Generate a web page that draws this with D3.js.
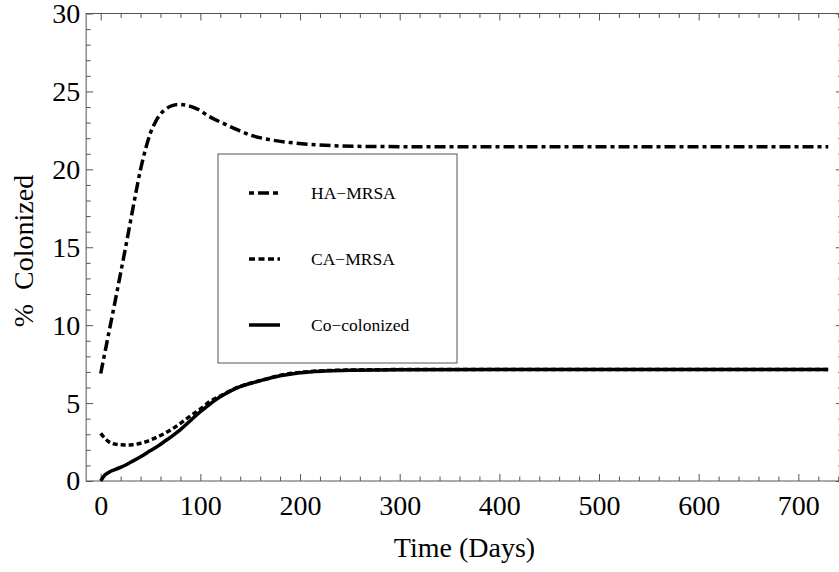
<!DOCTYPE html>
<html>
<head>
<meta charset="utf-8">
<script src="https://cdn.jsdelivr.net/npm/d3@7"></script>
<style>
  html, body { margin: 0; padding: 0; background: #fff; }
  svg { display: block; }
  text { font-family: "Liberation Serif", "Times New Roman", Times, serif; fill: #000; }
</style>
</head>
<body>
<svg id="chart" width="839" height="572"></svg>
<script>
// ---- data ----
const haTime = [0,5,10,15,20,25,30,35,40,45,50,55,60,65,70,78,85,96,110,123,135,150,170,190,210,240,280,350,450,600,730];
const haValues = [6.9,8.5,10.1,11.7,13.35,15.0,16.7,18.4,20.0,21.3,22.35,23.05,23.55,23.85,24.05,24.17,24.12,23.9,23.35,22.95,22.6,22.2,21.9,21.72,21.6,21.5,21.46,21.45,21.45,21.45,21.45];

const caTime = [0,4,8,12,16,20,26,32,40,48,56,64,72,80,90,100,110,120,135,150,165,180,200,225,250,300,400,550,730];
const caValues = [3.05,2.75,2.52,2.4,2.35,2.32,2.31,2.33,2.42,2.58,2.8,3.05,3.35,3.7,4.17,4.62,5.12,5.45,5.95,6.27,6.52,6.78,6.97,7.08,7.12,7.15,7.16,7.16,7.16];

const coTime = [0,3,8,15,23,30,40,50,57,65,73,80,90,100,107,115,123,131,140,152,163,180,200,225,250,300,400,550,730];
const coValues = [0,0.3,0.55,0.75,0.96,1.2,1.55,1.95,2.22,2.58,2.95,3.3,3.87,4.45,4.8,5.2,5.52,5.8,6.06,6.3,6.49,6.75,6.95,7.06,7.11,7.14,7.15,7.15,7.15];

const seriesNames = ["HA\u2212MRSA", "CA\u2212MRSA", "Co\u2212colonized"];
const xTicks = [0,100,200,300,400,500,600,700];
const yTicks = [0,5,10,15,20,25,30];
const xTitle = "Time (Days)";
const yTitle = "%  Colonized";

// ---- layout ----
const svg = d3.select("#chart");
const x = d3.scaleLinear().domain([-14.6, 744.6]).range([86.15, 842.8]);
const y = d3.scaleLinear().domain([0, 30]).range([481, 13.5]);
const frameColor = "#555";
const fontSize = 28;

const xMinor = d3.range(0, 741, 20).filter(v => v % 100 !== 0);
const yMinor = d3.range(0, 31, 1).filter(v => v % 5 !== 0);

function styleAxis(g, labels) {
  g.select(".domain").remove();
  g.selectAll(".tick line").attr("stroke", frameColor).attr("stroke-width", 1);
  g.selectAll(".tick text")
    .style("font-family", '"Liberation Serif", "Times New Roman", serif')
    .style("font-size", fontSize + "px")
    .attr("fill", "#000");
  if (!labels) g.selectAll(".tick text").remove();
}

// bottom
svg.append("g").attr("transform", `translate(0,${y(0)})`)
  .call(d3.axisBottom(x).tickValues(xTicks).tickSize(-7).tickPadding(14).tickFormat(d3.format("d")))
  .call(g => styleAxis(g, true));
svg.append("g").attr("transform", `translate(0,${y(0)})`)
  .call(d3.axisBottom(x).tickValues(xMinor).tickSize(-4.5).tickFormat(""))
  .call(g => styleAxis(g, false));
// top
svg.append("g").attr("transform", `translate(0,${y(30)})`)
  .call(d3.axisTop(x).tickValues(xTicks).tickSize(-7).tickFormat(""))
  .call(g => styleAxis(g, false));
svg.append("g").attr("transform", `translate(0,${y(30)})`)
  .call(d3.axisTop(x).tickValues(xMinor).tickSize(-4.5).tickFormat(""))
  .call(g => styleAxis(g, false));
// left
svg.append("g").attr("transform", `translate(${x.range()[0]},0)`)
  .call(d3.axisLeft(y).tickValues(yTicks).tickSize(-7).tickPadding(6).tickFormat(d3.format("d")))
  .call(g => styleAxis(g, true));
svg.append("g").attr("transform", `translate(${x.range()[0]},0)`)
  .call(d3.axisLeft(y).tickValues(yMinor).tickSize(-4.5).tickFormat(""))
  .call(g => styleAxis(g, false));
// right
svg.append("g").attr("transform", `translate(${x.range()[1]},0)`)
  .call(d3.axisRight(y).tickValues(yTicks).tickSize(-7).tickFormat(""))
  .call(g => styleAxis(g, false));
svg.append("g").attr("transform", `translate(${x.range()[1]},0)`)
  .call(d3.axisRight(y).tickValues(yMinor).tickSize(-4.5).tickFormat(""))
  .call(g => styleAxis(g, false));

// frame
svg.append("rect")
  .attr("x", x.range()[0]).attr("y", y(30))
  .attr("width", x.range()[1] - x.range()[0]).attr("height", y(0) - y(30))
  .attr("fill", "none").attr("stroke", frameColor).attr("stroke-width", 1);

// ---- curves ----
const line = d3.line().x(d => x(d[0])).y(d => y(d[1])).curve(d3.curveMonotoneX);
const series = [
  { t: haTime, v: haValues, dash: "11,4,4,4" },
  { t: caTime, v: caValues, dash: "5,3" },
  { t: coTime, v: coValues, dash: null }
];
// draw solid first, then dashed on top
[2, 1, 0].forEach(i => {
  const s = series[i];
  svg.append("path")
    .datum(s.t.map((t, k) => [t, s.v[k]]))
    .attr("d", line)
    .attr("fill", "none")
    .attr("stroke", "#000")
    .attr("stroke-width", 3.5)
    .attr("stroke-dasharray", s.dash);
});

// ---- axis titles ----
svg.append("text")
  .attr("x", 464.5).attr("y", 557)
  .attr("text-anchor", "middle")
  .style("font-size", fontSize + "px")
  .text(xTitle);
svg.append("text")
  .attr("transform", "translate(33,251) rotate(-90)")
  .attr("text-anchor", "middle")
  .style("font-size", fontSize + "px")
  .style("white-space", "pre")
  .text(yTitle);

// ---- legend ----
const legend = svg.append("g");
legend.append("rect")
  .attr("x", 218).attr("y", 154).attr("width", 239).attr("height", 209)
  .attr("fill", "#fff").attr("stroke", frameColor).attr("stroke-width", 1);
const legendY = [193, 259, 325];
seriesNames.forEach((name, i) => {
  legend.append("line")
    .attr("x1", 249).attr("x2", 280)
    .attr("y1", legendY[i]).attr("y2", legendY[i])
    .attr("stroke", "#000").attr("stroke-width", 3.5)
    .attr("stroke-dasharray", i === 0 ? "5,4,11,4" : (i === 1 ? "6,3.5" : null));
  legend.append("text")
    .attr("x", 311).attr("y", legendY[i] + 6)
    .style("font-size", "17.5px")
    .text(name);
});
</script>
</body>
</html>
